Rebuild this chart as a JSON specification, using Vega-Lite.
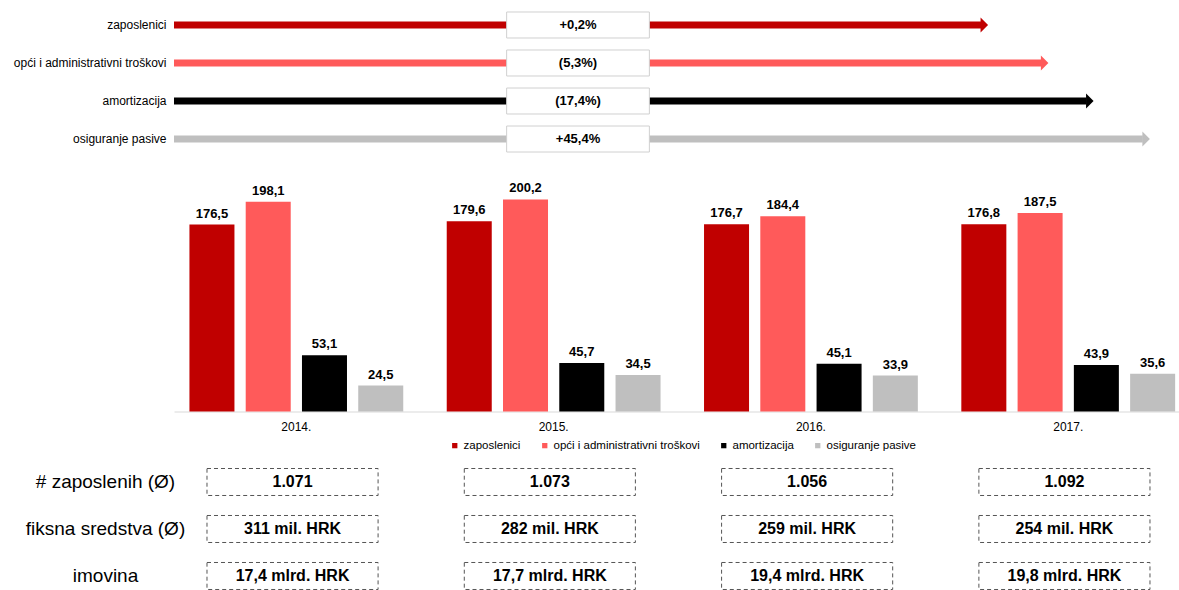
{
  "$schema": "https://vega.github.io/schema/vega-lite/v6.json",
  "usermeta": {"embedOptions": {"actions": false}},
  "background": "white",
  "padding": {"left": 13, "top": 0, "right": 0, "bottom": 0},
  "config": {
    "font": "Liberation Sans",
    "view": {"stroke": null},
    "locale": {"number": {"decimal": ",", "thousands": ".", "grouping": [3], "currency": ["", ""]}}
  },
  "bounds": "flush",
  "spacing": 18.5,
  "resolve": {"scale": {"x": "independent", "y": "independent", "color": "independent"}},
  "datasets": {
    "arrows": [
      {"series": "zaposlenici", "length": 81.0, "change": "+0,2%"},
      {"series": "opći i administrativni troškovi", "length": 87.0, "change": "(5,3%)"},
      {"series": "amortizacija", "length": 91.5, "change": "(17,4%)"},
      {"series": "osiguranje pasive", "length": 97.1, "change": "+45,4%"}
    ],
    "bars": [
      {"year": "2014.", "series": "zaposlenici", "value": 176.5},
      {"year": "2014.", "series": "opći i administrativni troškovi", "value": 198.1},
      {"year": "2014.", "series": "amortizacija", "value": 53.1},
      {"year": "2014.", "series": "osiguranje pasive", "value": 24.5},
      {"year": "2015.", "series": "zaposlenici", "value": 179.6},
      {"year": "2015.", "series": "opći i administrativni troškovi", "value": 200.2},
      {"year": "2015.", "series": "amortizacija", "value": 45.7},
      {"year": "2015.", "series": "osiguranje pasive", "value": 34.5},
      {"year": "2016.", "series": "zaposlenici", "value": 176.7},
      {"year": "2016.", "series": "opći i administrativni troškovi", "value": 184.4},
      {"year": "2016.", "series": "amortizacija", "value": 45.1},
      {"year": "2016.", "series": "osiguranje pasive", "value": 33.9},
      {"year": "2017.", "series": "zaposlenici", "value": 176.8},
      {"year": "2017.", "series": "opći i administrativni troškovi", "value": 187.5},
      {"year": "2017.", "series": "amortizacija", "value": 43.9},
      {"year": "2017.", "series": "osiguranje pasive", "value": 35.6}
    ],
    "table": [
      {"metric": "# zaposlenih (Ø)", "year": "2014.", "text": "1.071"},
      {"metric": "# zaposlenih (Ø)", "year": "2015.", "text": "1.073"},
      {"metric": "# zaposlenih (Ø)", "year": "2016.", "text": "1.056"},
      {"metric": "# zaposlenih (Ø)", "year": "2017.", "text": "1.092"},
      {"metric": "fiksna sredstva (Ø)", "year": "2014.", "text": "311 mil. HRK"},
      {"metric": "fiksna sredstva (Ø)", "year": "2015.", "text": "282 mil. HRK"},
      {"metric": "fiksna sredstva (Ø)", "year": "2016.", "text": "259 mil. HRK"},
      {"metric": "fiksna sredstva (Ø)", "year": "2017.", "text": "254 mil. HRK"},
      {"metric": "imovina", "year": "2014.", "text": "17,4 mlrd. HRK"},
      {"metric": "imovina", "year": "2015.", "text": "17,7 mlrd. HRK"},
      {"metric": "imovina", "year": "2016.", "text": "19,4 mlrd. HRK"},
      {"metric": "imovina", "year": "2017.", "text": "19,8 mlrd. HRK"}
    ]
  },
  "vconcat": [
    {
      "width": 1005,
      "height": 160,
      "data": {"name": "arrows"},
      "encoding": {
        "y": {
          "field": "series", "type": "nominal",
          "sort": ["zaposlenici", "opći i administrativni troškovi", "amortizacija", "osiguranje pasive"],
          "scale": {"type": "band", "paddingInner": 0.316, "paddingOuter": 0.263, "align": 0.6},
          "axis": {"title": null, "domain": false, "ticks": false, "labelFontSize": 12, "labelPadding": 8, "labelColor": "#000000", "labelLimit": 400}
        }
      },
      "layer": [
        {
          "mark": {"type": "rule", "strokeWidth": 7, "xOffset": -7},
          "encoding": {
            "x": {"field": "length", "type": "quantitative", "scale": {"domain": [0, 100], "nice": false}, "axis": null},
            "x2": {"datum": 0},
            "color": {"field": "series", "type": "nominal",
              "scale": {"domain": ["zaposlenici", "opći i administrativni troškovi", "amortizacija", "osiguranje pasive"], "range": ["#C00000", "#FF5A5A", "#000000", "#BFBFBF"]},
              "legend": null}
          }
        },
        {
          "mark": {"type": "point", "shape": "M-1,-1L0,0L-1,1Z", "filled": true, "size": 225, "opacity": 1},
          "encoding": {
            "x": {"field": "length", "type": "quantitative"},
            "color": {"field": "series", "type": "nominal",
              "scale": {"domain": ["zaposlenici", "opći i administrativni troškovi", "amortizacija", "osiguranje pasive"], "range": ["#C00000", "#FF5A5A", "#000000", "#BFBFBF"]},
              "legend": null}
          }
        },
        {
          "mark": {"type": "rect", "fill": "white", "stroke": "#D0D0D0", "strokeWidth": 1},
          "encoding": {
            "x": {"datum": 33.1, "type": "quantitative"},
            "x2": {"datum": 47.3}
          }
        },
        {
          "mark": {"type": "text", "fontWeight": "bold", "fontSize": 13, "color": "#000000"},
          "encoding": {
            "x": {"datum": 40.2, "type": "quantitative"},
            "text": {"field": "change"}
          }
        }
      ]
    },
    {
      "width": 1005,
      "height": 233,
      "data": {"name": "bars"},
      "encoding": {
        "x": {
          "field": "year", "type": "ordinal",
          "scale": {"type": "band", "paddingInner": 0.169, "paddingOuter": 0.0375, "align": 0.8},
          "axis": {"title": null, "ticks": false, "domainColor": "#D9D9D9", "labelFontSize": 12, "labelColor": "#000000", "labelPadding": 10, "labelAngle": 0}
        },
        "xOffset": {
          "field": "series", "type": "nominal",
          "sort": ["zaposlenici", "opći i administrativni troškovi", "amortizacija", "osiguranje pasive"],
          "scale": {"paddingInner": 0.2, "paddingOuter": 0}
        },
        "y": {"field": "value", "type": "quantitative", "scale": {"domain": [0, 220], "nice": false}, "axis": null}
      },
      "layer": [
        {
          "mark": {"type": "bar"},
          "encoding": {
            "color": {
              "field": "series", "type": "nominal",
              "scale": {"domain": ["zaposlenici", "opći i administrativni troškovi", "amortizacija", "osiguranje pasive"], "range": ["#C00000", "#FF5A5A", "#000000", "#BFBFBF"]},
              "legend": {"title": null, "orient": "none", "legendX": 275, "legendY": 261, "direction": "horizontal", "symbolType": "square", "symbolSize": 28, "symbolStrokeWidth": 0, "labelFontSize": 11.5, "labelColor": "#000000", "columnPadding": 18, "labelOffset": 3, "labelLimit": 400}
            }
          }
        },
        {
          "mark": {"type": "text", "baseline": "bottom", "dy": -4, "fontSize": 13, "fontWeight": "bold", "color": "#000000"},
          "encoding": {"text": {"field": "value", "type": "quantitative", "format": ".1f"}}
        }
      ]
    },
    {
      "width": 1005,
      "height": 160,
      "data": {"name": "table"},
      "encoding": {
        "x": {"field": "year", "type": "ordinal", "scale": {"type": "band", "paddingInner": 0.335, "paddingOuter": 0.1205, "align": 0.532}, "axis": null},
        "y": {
          "field": "metric", "type": "nominal",
          "sort": ["# zaposlenih (Ø)", "fiksna sredstva (Ø)", "imovina"],
          "scale": {"type": "band", "paddingInner": 0.4255, "paddingOuter": 0.415, "align": 0.987},
          "axis": {"title": null, "domain": false, "ticks": false, "labelFontSize": 19, "labelAlign": "center", "labelPadding": 69, "labelColor": "#000000", "labelLimit": 400}
        }
      },
      "layer": [
        {"mark": {"type": "rect", "fill": "white", "stroke": "#555555", "strokeWidth": 1, "strokeDash": [4, 3]}},
        {"mark": {"type": "text", "fontSize": 16, "fontWeight": "bold", "color": "#000000"}, "encoding": {"text": {"field": "text"}}}
      ]
    }
  ]
}
